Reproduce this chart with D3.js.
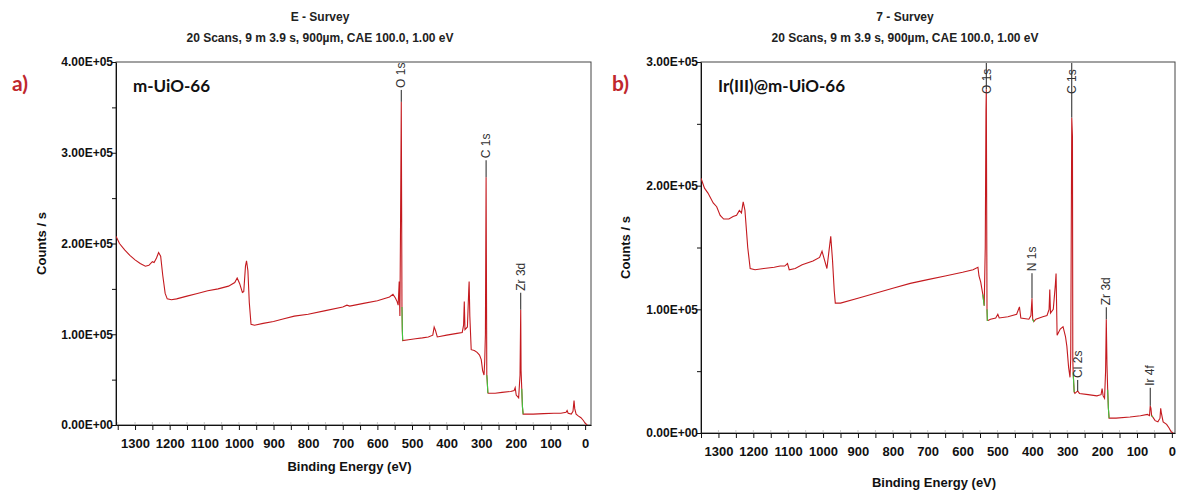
<!DOCTYPE html>
<html lang="en">
<head>
<meta charset="UTF-8">
<title>XPS survey</title>
<script src="https://d3js.org/d3.v7.min.js"></script>
<style>
  body{margin:0;background:#fff;}
  .nar{font-family:"Liberation Sans Narrow","Arial Narrow","Liberation Sans",sans-serif;}
</style>
</head>
<body>
<script>
// panel a : m-UiO-66   (binding energy eV, counts/s)
var beA  = [1355,1345,1330,1315,1300,1285,1270,1260,1250,1245,1238,1232,1226,1220,1213,1207,1195,1180,1150,1120,1090,1060,1030,1012,1005,998,990,986,981,978,974,970,965,955,930,900,870,840,800,750,700,688,680,640,600,565,555,548,543,540,537,535,533,531,529,528,527,510,490,470,453,440,436,432,427,400,370,355,351,349,347,340,336,335,333,329,320,312,305,300,296,292,290,288,286,284,283,281,280,260,240,215,205,202,199,192,188,186,185,183,181,179,170,150,120,90,70,55,52,49,40,35,32,30,26,20,12,5,0,-6];
var cpsA = [208000,200000,193000,187000,182000,178000,175000,176000,180000,179000,184000,190000,186000,165000,145000,139000,138000,139000,142000,145000,148000,150000,153000,157000,162000,156000,146000,147000,175000,181000,170000,135000,111000,110000,112000,114000,117000,120000,122000,126000,130000,132000,131000,134000,137000,141000,144000,140000,136000,132000,158000,120000,228000,356000,130000,105000,93000,94000,95000,96000,97000,99000,108000,104000,97000,99000,101000,102000,110000,136000,105000,108000,150000,158000,120000,83000,82000,80000,77000,72000,60000,55000,70000,100000,273000,55000,50000,36000,35000,35000,36000,37000,38000,41000,33000,30000,55000,127000,60000,40000,20000,12000,12000,12000,12500,13000,13000,14000,16000,13000,12000,15000,27000,18000,12000,10000,8000,5000,2000,0];
var greenA = [[529,527],[284,280],[183,179]];
var peakNamesA = ["O 1s","C 1s","Zr 3d"];
var peakBEA    = [531,286,186];

// panel b : Ir(III)@m-UiO-66
var beB  = [1350,1340,1330,1315,1305,1295,1285,1270,1258,1248,1240,1234,1229,1224,1216,1209,1195,1170,1140,1123,1110,1102,1097,1080,1060,1029,1010,1003,996,989,984,978,973,968,965,950,900,850,800,750,700,650,600,570,556,553,548,542,538,535,533,532,530,529,527,520,505,499,495,470,445,437,433,410,404,401,399,396,390,370,358,352,350,348,340,334,332,329,320,312,305,301,296,292,290,287,285,284,283,280,278,270,265,240,215,203,200,197,193,190,188,186,184,182,180,160,120,90,70,64,62,60,58,55,48,40,34,32,30,25,15,8,2,-3];
var cpsB = [206000,198000,194000,186000,183000,176000,173000,173000,175000,176000,180000,178000,187000,180000,150000,133000,132000,133000,134000,135000,135000,137000,132000,133000,136000,139000,142000,147000,140000,133000,145000,159000,140000,115000,105000,105000,109000,113000,117000,121000,124000,127000,130000,132000,134000,127000,122000,112000,103000,150000,260000,278000,100000,91000,91000,92000,93000,96000,93000,94000,96000,102000,93000,92000,95000,109000,92000,90000,92000,94000,95000,100000,116000,97000,100000,120000,129000,79000,84000,86000,78000,70000,53000,45000,60000,255000,240000,60000,49000,33000,32000,34000,32000,31000,30000,31000,36000,30000,28000,50000,92000,55000,35000,20000,12000,12000,13000,14000,15000,14000,22000,20000,14000,13000,10000,9000,12000,20000,16000,9000,7000,4000,1000,0];
var greenB = [[542,538],[530,527],[399,396],[283,280],[184,180],[58,55]];
var peakNamesB = ["O 1s","N 1s","C 1s","Cl 2s","Zr 3d","Ir 4f"];
var peakBEB    = [532,401,287,270,188,62];

var xTickVals  = [1300,1200,1100,1000,900,800,700,600,500,400,300,200,100,0];
var yTicksA    = [0,100000,200000,300000,400000];
var yTicksB    = [0,100000,200000,300000];

var W = 1178, H = 492;
var svg = d3.select("body").append("svg").attr("width", W).attr("height", H);

function fmtE(v){
  if (v === 0) return "0.00E+00";
  var e = Math.floor(Math.log10(v));
  return (v / Math.pow(10, e)).toFixed(2) + "E+" + (e < 10 ? "0" : "") + e;
}

function panel(o){
  var x = d3.scaleLinear().domain(o.xdom).range([o.l, o.r]);
  var y = d3.scaleLinear().domain([0, o.ymax]).range([o.b, o.t]);
  var g = svg.append("g");
  var pts = o.be.map(function(d, i){ return [d, o.cps[i]]; });

  // titles
  g.append("text").attr("class","nar").attr("x", o.tx).attr("y", 21)
    .attr("text-anchor","middle").attr("font-size",12).attr("font-weight","bold").attr("fill","#222")
    .text(o.title);
  g.append("text").attr("class","nar").attr("x", o.tx).attr("y", 42)
    .attr("text-anchor","middle").attr("font-size",12).attr("font-weight","bold").attr("fill","#222")
    .text("20 Scans,  9 m 3.9 s,  900\u00b5m,  CAE 100.0,  1.00 eV");

  // frame
  g.append("rect").attr("x", o.l).attr("y", o.t).attr("width", o.r - o.l).attr("height", o.b - o.t)
    .attr("fill","none").attr("stroke","#444").attr("stroke-width",1);

  // axes
  var minorX = d3.range(1350, -1, -50);
  var xa = g.append("g").attr("transform","translate(0," + o.b + ")")
    .call(d3.axisBottom(x).tickValues(minorX).tickSize(5).tickSizeOuter(0)
      .tickFormat(function(d){ return xTickVals.indexOf(d) >= 0 ? d : ""; }));
  xa.select(".domain").attr("stroke","#111");
  xa.selectAll(".tick line").attr("stroke","#111");
  xa.selectAll("text").attr("class","nar").attr("font-size",13).attr("font-weight","bold")
    .attr("fill","#111").attr("dy", "1.15em");
  // faint inner ticks
  g.selectAll(".itk").data(minorX).enter().append("line")
    .attr("x1", function(d){ return x(d); }).attr("x2", function(d){ return x(d); })
    .attr("y1", o.b - 3).attr("y2", o.b - 1).attr("stroke","#ccc");

  var minorY = d3.range(0, o.ymax + 1, 50000);
  var ya = g.append("g").attr("transform","translate(" + o.l + ",0)")
    .call(d3.axisLeft(y).tickValues(minorY).tickSize(4).tickSizeOuter(0)
      .tickFormat(function(d){ return o.yt.indexOf(d) >= 0 ? fmtE(d) : ""; }));
  ya.select(".domain").attr("stroke","#111");
  ya.selectAll(".tick line").attr("stroke","#111");
  ya.selectAll("text").attr("class","nar").attr("font-size",12).attr("font-weight","bold")
    .attr("fill","#111").attr("x", -3);

  g.append("text").attr("class","nar")
    .attr("transform","translate(" + o.ylx + "," + ((o.t + o.b) / 2) + ") rotate(-90)")
    .attr("text-anchor","middle").attr("font-size",13).attr("font-weight","bold").attr("fill","#111")
    .text("Counts / s");
  g.append("text").attr("class","nar").attr("x", (o.l + o.r) / 2 - 4).attr("y", o.xly)
    .attr("text-anchor","middle").attr("font-size",13).attr("font-weight","bold").attr("fill","#111")
    .text("Binding Energy (eV)");

  // panel letter + sample name
  g.append("text").attr("x", o.lx).attr("y", 91).attr("font-family","Lato, 'Open Sans', sans-serif")
    .attr("font-size",21).attr("font-weight","bold").attr("fill","#c0282d").text(o.letter);
  g.append("text").attr("x", o.l + 17).attr("y", 92).attr("font-family","Lato, 'Open Sans', sans-serif")
    .attr("font-size",17).attr("font-weight","bold").attr("fill","#111").text(o.name);

  // spectrum
  var clipId = "clip" + o.letter.charAt(0);
  svg.append("clipPath").attr("id", clipId).append("rect")
    .attr("x", o.l).attr("y", o.t).attr("width", o.r - o.l).attr("height", o.b - o.t);
  var line = d3.line().x(function(d){ return x(d[0]); }).y(function(d){ return y(d[1]); });
  var pg = g.append("g").attr("clip-path","url(#" + clipId + ")");
  pg.append("path").datum(pts).attr("d", line).attr("fill","none")
    .attr("stroke","#c41a1f").attr("stroke-width",1.1);
  o.green.forEach(function(rg){
    var seg = pts.filter(function(p){ return p[0] <= rg[0] && p[0] >= rg[1]; });
    pg.append("path").datum(seg).attr("d", line).attr("fill","none")
      .attr("stroke","#3ec63e").attr("stroke-width",1.1);
  });

  // peak labels
  o.pn.forEach(function(name, i){
    var be = o.pb[i];
    var top = d3.max(pts.filter(function(p){ return Math.abs(p[0] - be) <= 2; }), function(p){ return p[1]; });
    var px = x(be), py = y(top), lift = o.lift[i];
    var tb = lift > 0 ? py - lift - 2 : o.t + 32;
    g.append("line").attr("x1", px).attr("x2", px).attr("y1", py)
      .attr("y2", lift > 0 ? py - lift : o.t + 1).attr("stroke","#222").attr("stroke-width",1);
    g.append("text").attr("transform","translate(" + px + "," + tb + ") rotate(-90)")
      .attr("dy","0.35em").attr("font-family","'Liberation Sans', Arial, sans-serif")
      .attr("font-size",12).attr("fill","#333").text(name);
  });
}

panel({title:"E - Survey", tx:320, l:116, r:591, t:62, b:425, xdom:[1355,-17], ymax:400000,
       yt:yTicksA, be:beA, cps:cpsA, green:greenA, pn:peakNamesA, pb:peakBEA, lift:[12,17,17],
       ylx:46, xly:471, lx:12, letter:"a)", name:"m-UiO-66"});
panel({title:"7 - Survey", tx:905, l:701, r:1175, t:62, b:433, xdom:[1350,-9], ymax:300000,
       yt:yTicksB, be:beB, cps:cpsB, green:greenB, pn:peakNamesB, pb:peakBEB, lift:[0,25,0,11,12,18],
       ylx:630, xly:487, lx:612, letter:"b)", name:"Ir(III)@m-UiO-66"});
</script>
</body>
</html>
